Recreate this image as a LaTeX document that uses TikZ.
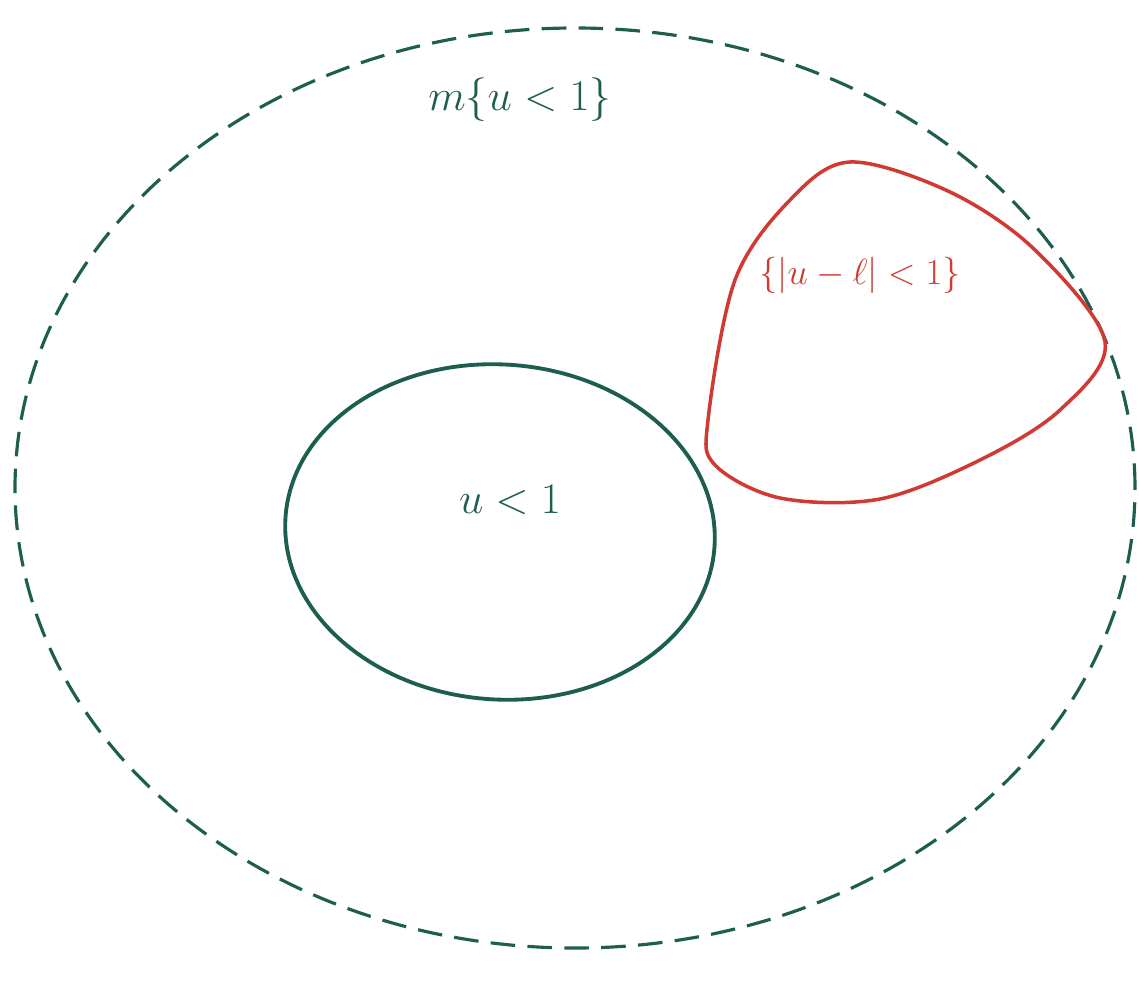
\documentclass[tikz,border=0pt]{standalone}
\usepackage{amsmath,amssymb}
\usepackage{xcolor}
\usepackage{tikz}
\usetikzlibrary{shapes.geometric,positioning}
\definecolor{penGreen}{HTML}{1E5E50}
\definecolor{penRed}{HTML}{D03A32}

\begin{document}
\begin{tikzpicture}[
    setring/.style={ellipse, draw=penGreen, line width=2.2pt, inner sep=0pt},
    outerring/.style={setring, line width=1.8pt, dash pattern=on 14pt off 7pt},
    redblob/.style={draw=penRed, line width=2pt},
    greenlbl/.style={text=penGreen, font=\fontsize{24}{28}\selectfont},
    redlbl/.style={text=penRed, font=\fontsize{22}{26}\selectfont}
]
\useasboundingbox (0,0) rectangle (22.78,19.88);

\node[outerring, minimum width=22.4cm, minimum height=18.4cm] (outer) at (11.5,10.12) {};
\node[setring, minimum width=8.6cm, minimum height=6.7cm, rotate=-4] (inner) at (10.0,9.24) {};

% the red set
\draw[redblob] plot[smooth cycle, tension=0.55] coordinates {
    (14.16,11.48) (14.7,14.28) (15.8,15.88) (17.0,16.64) (19.0,16.04)
    (20.7,14.88) (22.1,13.04) (21.2,11.68) (19.6,10.68) (17.6,9.9)
    (15.6,9.92) (14.3,10.58)};

\node[greenlbl] (outerlbl) at (10.4,17.88) {$m\{u<1\}$};
\node[greenlbl] (innerlbl) at (10.2,9.88) {$u<1$};
\node[redlbl] (redlbl) at (17.2,14.38) {$\{|u-\ell|<1\}$};
\end{tikzpicture}
\end{document}
